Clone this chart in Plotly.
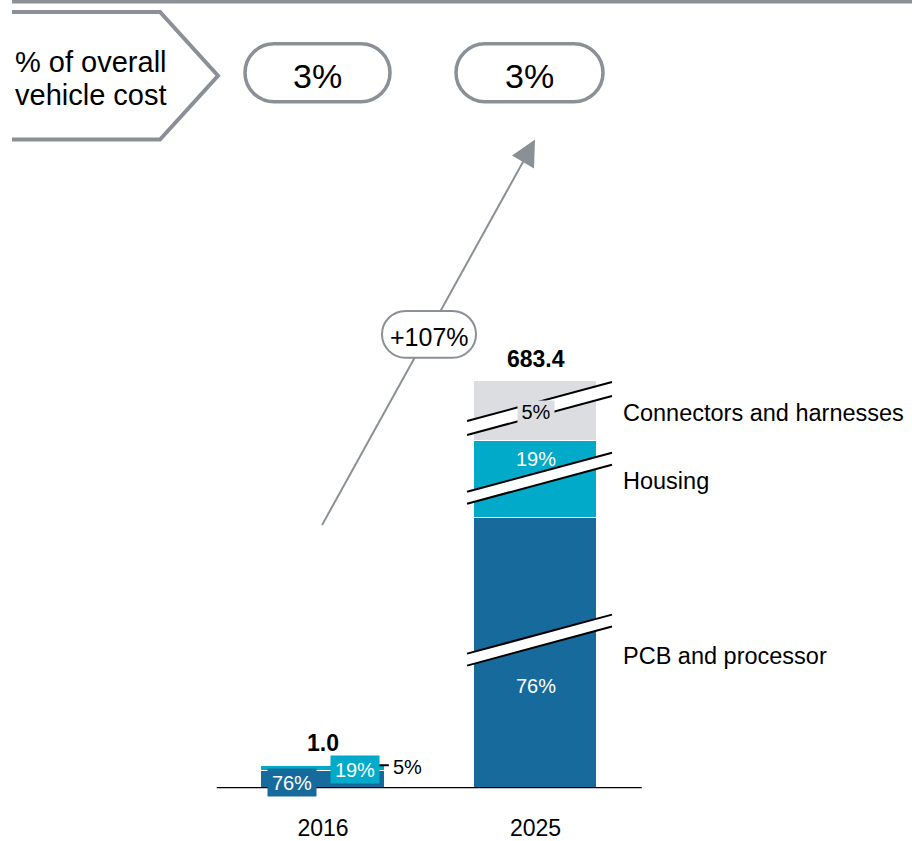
import plotly.graph_objects as go

# ---- data -------------------------------------------------------------
years = ["2016", "2025"]
totals = [1.0, 683.4]
components = ["PCB and processor", "Housing", "Connectors and harnesses"]
share_pcb = [76, 76]
share_housing = [19, 19]
share_connectors = [5, 5]
vehicle_cost_share = ["3%", "3%"]
growth_label = "+107%"

# ---- styling ----------------------------------------------------------
FONT = "Liberation Sans, Arial, Helvetica, sans-serif"
C_PCB = "#176b9c"
C_HOUSING = "#00aac8"
C_CONN = "#dcdde0"
C_OUTLINE = "#8b9096"
colors = [C_PCB, C_HOUSING, C_CONN]

W, H = 912, 841
BASE_PX = 791          # pixel row of the bar baseline
X0_PX = 323            # pixel column of the first bar centre
UNIT_PX = 212.5        # pixels between bar centres
BAR_W = 0.58

# the 2016 bar is drawn to scale (1.0 -> 23 px); the 2025 bar uses a broken axis
scale_2016 = 23.0
broken_2025 = [271, 77, 61]


def px(x):
    return x / W


def py(y):
    return 1 - y / H


shares = [share_pcb, share_housing, share_connectors]
seg_heights = []
for k in range(3):
    seg_heights.append([shares[k][0] / 100 * totals[0] * scale_2016, broken_2025[k]])

fig = go.Figure()
for k, name in enumerate(components):
    fig.add_trace(go.Bar(
        x=[0, 1], y=seg_heights[k], name=name, width=BAR_W,
        marker=dict(color=colors[k], line=dict(color="white", width=1.5)),
        hoverinfo="skip", showlegend=False,
    ))

tops = [sum(seg_heights[k][i] for k in range(3)) for i in range(2)]

shapes = []
annotations = []

# baseline
shapes.append(dict(type="line", xref="x", yref="y", x0=-0.5, x1=1.5, y0=0, y1=0,
                   line=dict(color="black", width=2.5)))

# axis-break marks on the 2025 bar
SLOPE = 57.4
for cy, half in [(147.5, 6), (310, 6), (380, 7)]:
    xl, xr = 1 - 0.322, 1 + 0.36
    yl, yr = cy - SLOPE * 0.322, cy + SLOPE * 0.36
    shapes.append(dict(type="path", xref="x", yref="y", layer="above",
                       path=f"M{xl},{yl - half} L{xr},{yr - half} L{xr},{yr + half} L{xl},{yl + half} Z",
                       fillcolor="white", line=dict(width=0)))
    for s in (-half, half):
        shapes.append(dict(type="line", xref="x", yref="y", layer="above",
                           x0=xl, y0=yl + s, x1=xr, y1=yr + s,
                           line=dict(color="black", width=2)))

# header: rule, chevron and pills
shapes.append(dict(type="line", xref="paper", yref="paper", x0=px(12), x1=px(912),
                   y0=py(1.5), y1=py(1.5), line=dict(color=C_OUTLINE, width=4)))
shapes.append(dict(type="path", xref="paper", yref="paper",
                   path=f"M{px(12)},{py(12)} L{px(160)},{py(12)} L{px(218)},{py(76)} "
                        f"L{px(160)},{py(140)} L{px(12)},{py(140)}",
                   line=dict(color=C_OUTLINE, width=4)))


# stadium-shaped outline (rounded ends drawn with cubic curves)
def stadium(x0, x1, y0, y1, width):
    r = (y1 - y0) / 2
    k = 0.5523 * r
    cyy = y0 + r
    path = (f"M{px(x0 + r)},{py(y0)} L{px(x1 - r)},{py(y0)} "
            f"C{px(x1 - r + k)},{py(y0)} {px(x1)},{py(cyy - k)} {px(x1)},{py(cyy)} "
            f"C{px(x1)},{py(cyy + k)} {px(x1 - r + k)},{py(y1)} {px(x1 - r)},{py(y1)} "
            f"L{px(x0 + r)},{py(y1)} "
            f"C{px(x0 + r - k)},{py(y1)} {px(x0)},{py(cyy + k)} {px(x0)},{py(cyy)} "
            f"C{px(x0)},{py(cyy - k)} {px(x0 + r - k)},{py(y0)} {px(x0 + r)},{py(y0)} Z")
    return dict(type="path", xref="paper", yref="paper", layer="above", path=path,
                fillcolor="white", line=dict(color=C_OUTLINE, width=width))


for (x0, x1), txt in zip([(245, 390), (456, 603)], vehicle_cost_share):
    shapes.append(stadium(x0, x1, 44, 102, 3.5))
    annotations.append(dict(xref="paper", yref="paper", x=px((x0 + x1) / 2), y=py(76),
                            text=txt, showarrow=False, xanchor="center", yanchor="middle",
                            font=dict(family=FONT, size=34, color="black")))

annotations.append(dict(xref="paper", yref="paper", x=px(13), y=py(62), text="% of overall",
                        showarrow=False, xanchor="left", yanchor="middle",
                        font=dict(family=FONT, size=29, color="black")))
annotations.append(dict(xref="paper", yref="paper", x=px(13), y=py(95), text="vehicle cost",
                        showarrow=False, xanchor="left", yanchor="middle",
                        font=dict(family=FONT, size=29, color="black")))

# growth arrow with its label
shapes.append(dict(type="line", xref="paper", yref="paper", layer="above",
                   x0=px(322), y0=py(527), x1=px(526), y1=py(157),
                   line=dict(color=C_OUTLINE, width=2)))
shapes.append(dict(type="path", xref="paper", yref="paper", layer="above",
                   path=f"M{px(535)},{py(140)} L{px(512)},{py(156)} L{px(534)},{py(169)} Z",
                   fillcolor=C_OUTLINE, line=dict(width=0)))
shapes.append(stadium(382, 476, 312, 359, 2))
annotations.append(dict(xref="paper", yref="paper", x=px(429), y=py(338), text=growth_label,
                        showarrow=False, xanchor="center", yanchor="middle",
                        font=dict(family=FONT, size=25, color="black")))

# totals above bars
for i, t in enumerate(totals):
    annotations.append(dict(xref="x", yref="y", x=i, y=tops[i] + 22, text=f"<b>{t:.1f}</b>",
                            showarrow=False, xanchor="center", yanchor="middle",
                            font=dict(family=FONT, size=23, color="black")))

# 2016 share call-outs
annotations.append(dict(xref="x", yref="y", x=-0.146, y=6, text=f"{share_pcb[0]}%",
                        showarrow=False, xanchor="center", yanchor="middle",
                        width=48, height=27, bgcolor=C_PCB, borderpad=0,
                        font=dict(family=FONT, size=20, color="white")))
annotations.append(dict(xref="x", yref="y", x=0.15, y=19, text=f"{share_housing[0]}%",
                        showarrow=False, xanchor="center", yanchor="middle",
                        width=48, height=27, bgcolor=C_HOUSING, borderpad=0,
                        font=dict(family=FONT, size=20, color="white")))
shapes.append(dict(type="line", xref="x", yref="y", layer="above", x0=0.262, x1=0.31,
                   y0=tops[0], y1=tops[0], line=dict(color="black", width=2)))
annotations.append(dict(xref="x", yref="y", x=0.32, y=tops[0] - 2, text=f"{share_connectors[0]}%",
                        showarrow=False, xanchor="left", yanchor="middle",
                        font=dict(family=FONT, size=20, color="black")))

# 2025 share labels
annotations.append(dict(xref="x", yref="y", x=1, y=103, text=f"{share_pcb[1]}%",
                        showarrow=False, xanchor="center", yanchor="middle",
                        font=dict(family=FONT, size=20, color="white")))
annotations.append(dict(xref="x", yref="y", x=1, y=330, text=f"{share_housing[1]}%",
                        showarrow=False, xanchor="center", yanchor="middle",
                        font=dict(family=FONT, size=20, color="white")))
annotations.append(dict(xref="x", yref="y", x=1, y=378, text=f"{share_connectors[1]}%",
                        showarrow=False, xanchor="center", yanchor="middle",
                        width=36, height=22, bgcolor=C_CONN, borderpad=0,
                        font=dict(family=FONT, size=20, color="black")))

# component names to the right of the 2025 bar
for name, yv in zip(components, [133, 308, 377]):
    annotations.append(dict(xref="x", yref="y", x=(621 - X0_PX) / UNIT_PX, y=yv, text=name,
                            showarrow=False, xanchor="left", yanchor="middle",
                            font=dict(family=FONT, size=23.5, color="black")))

fig.update_layout(
    width=W, height=H, autosize=False,
    margin=dict(l=0, r=0, t=0, b=0),
    paper_bgcolor="white", plot_bgcolor="white",
    barmode="stack", bargap=0,
    shapes=shapes, annotations=annotations,
    xaxis=dict(range=[-X0_PX / UNIT_PX, (W - X0_PX) / UNIT_PX], tickmode="array",
               tickvals=[0, 1], ticktext=years, showgrid=False, zeroline=False,
               showline=False, ticks="outside", ticklen=19, tickcolor="rgba(0,0,0,0)",
               tickfont=dict(family=FONT, size=23, color="black"), fixedrange=True),
    yaxis=dict(domain=[(H - BASE_PX) / H, 1], range=[0, BASE_PX], visible=False,
               fixedrange=True),
    showlegend=False,
)

fig.write_html("out.html")
